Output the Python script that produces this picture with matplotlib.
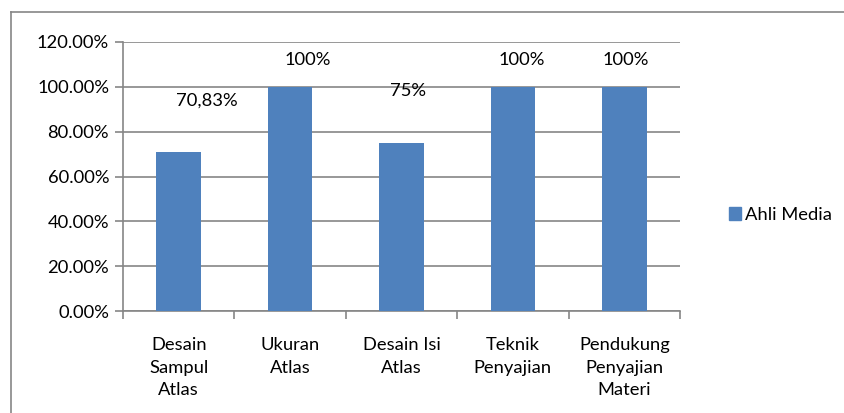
import numpy as np
import matplotlib.pyplot as plt
from matplotlib.lines import Line2D
from matplotlib.patches import Patch

plt.rcParams['font.family'] = ['Lato', 'DejaVu Sans']

categories = ['Desain\nSampul\nAtlas', 'Ukuran\nAtlas', 'Desain Isi\nAtlas',
              'Teknik\nPenyajian', 'Pendukung\nPenyajian\nMateri']
values = [0.7083, 1.00, 0.75, 1.00, 1.00]
labels = ['70,83%', '100%', '75%', '100%', '100%']
label_y = [0.94, 1.12, 0.98, 1.12, 1.12]      # where the labels were dragged to
label_dx = [0.25, 0.16, 0.06, 0.08, 0.01]
yticks = [0, 0.2, 0.4, 0.6, 0.8, 1.0, 1.2]

blue = '#4F81BD'
grey = '#868686'
fs = 13.2

fig = plt.figure(figsize=(8.44, 4.13), dpi=100)
# outer chart border (left and top visible)
fig.add_artist(Line2D([11/844, 11/844], [0, 1 - 12/413], color=grey, lw=1.2))
fig.add_artist(Line2D([11/844, 1], [1 - 12/413, 1 - 12/413], color=grey, lw=1.2))

ax = fig.add_axes([123/844, 1 - 311/413, 557/844, 269/413])
x = np.arange(len(categories))
ax.bar(x, values, width=0.4, color=blue, zorder=3)

for i in range(len(values)):
    ax.text(x[i] + label_dx[i], label_y[i], labels[i], ha='center', va='center', fontsize=fs)

ax.set_xlim(-0.5, len(categories) - 0.5)
ax.set_ylim(0, 1.2)
ax.set_yticks(yticks)
ax.set_yticklabels(['%.2f%%' % (v * 100) for v in yticks], fontsize=fs)
ax.yaxis.grid(True, color=grey, lw=1.2, zorder=0)
ax.tick_params(axis='y', length=6, color=grey, width=1.2, pad=4)

ax.set_xticks(x)
ax.set_xticklabels(categories, fontsize=fs, linespacing=1.5, va='top')
ax.tick_params(axis='x', length=0, pad=19)
ax.set_xticks(np.arange(len(categories) + 1) - 0.5, minor=True)
ax.tick_params(axis='x', which='minor', length=6, color=grey, width=1.2)

for s in ['top', 'right']:
    ax.spines[s].set_visible(False)
for s in ['left', 'bottom']:
    ax.spines[s].set_color(grey)
    ax.spines[s].set_linewidth(1.2)

handle = Patch(color=blue)
fig.legend([handle], ['Ahli Media'], loc='center left', bbox_to_anchor=(712/844, 1 - 215/413),
           frameon=False, fontsize=fs, handlelength=0.7, handleheight=0.7, handletextpad=0.2)

fig.savefig('out.png', dpi=100)
